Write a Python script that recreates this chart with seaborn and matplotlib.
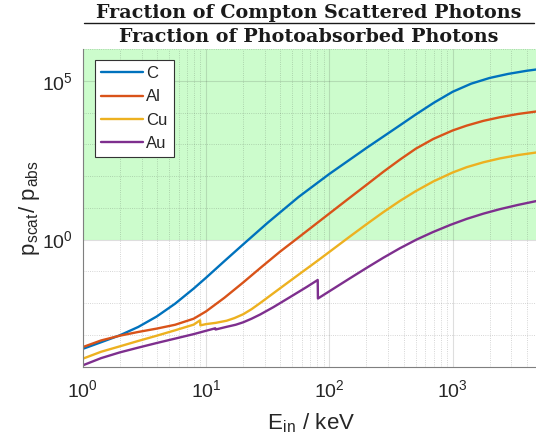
import numpy as np
import pandas as pd
import matplotlib
matplotlib.use("Agg")
import matplotlib.pyplot as plt
import matplotlib.ticker as mticker
from matplotlib.lines import Line2D
import seaborn as sns

# --- data (E in keV, ratio p_scat / p_abs) ---
energy_c = [1, 1.41, 2, 2.82, 3.98, 5.62, 7.94, 10, 14.1, 20, 31.6, 56.2, 100,
            200, 374, 501, 708, 1000, 1413, 1995, 2818, 3981, 5000]
ratio_c = [3.63e-4, 5.89e-4, 9.73e-4, 1.78e-3, 3.8e-3, 9.66e-3, 0.0288, 0.0631,
           0.211, 0.708, 3.39, 21.9, 117, 769, 3980, 8650, 2.07e4, 4.52e4,
           8.13e4, 1.23e5, 1.65e5, 2.07e5, 2.33e5]

energy_al = [1, 1.41, 2, 2.82, 3.98, 5.62, 7.94, 10, 14.1, 20, 28.2, 39.8, 56.2,
             84.1, 138, 201, 275, 374, 501, 697, 1000, 1300, 1778, 2420, 3388, 5000]
ratio_al = [4.13e-4, 6.7e-4, 9.46e-4, 1.24e-3, 1.58e-3, 2.09e-3, 3.24e-3, 5.5e-3,
            0.0148, 0.0447, 0.138, 0.417, 1.17, 3.94, 17.5, 53.7, 138, 331, 724,
            1480, 2735, 3890, 5500, 7140, 9040, 1.11e4]

energy_cu = [1, 1.41, 2, 2.82, 3.98, 5.62, 7.94, 8.95, 9.0, 10, 12, 14.7, 17, 20,
             23.4, 27.4, 35.1, 48, 57.8, 81.5, 108, 147, 201, 275, 374, 501, 697,
             1000, 1300, 1778, 2420, 3388, 5000]
ratio_cu = [1.78e-4, 2.95e-4, 4.37e-4, 6.46e-4, 9.44e-4, 1.40e-3, 2.11e-3, 2.88e-3,
            2.0e-3, 2.19e-3, 2.4e-3, 2.8e-3, 3.39e-3, 4.47e-3, 6.46e-3, 0.01,
            0.0204, 0.0501, 0.0851, 0.226, 0.513, 1.26, 3.09, 7.41, 16.6, 33.5,
            67.9, 130, 191, 273, 361, 459, 569]

energy_au = [1, 1.41, 2, 2.82, 3.98, 5.62, 7.94, 10, 11.9, 11.95, 14.7, 17.4, 20.1,
             23.4, 27.4, 35.2, 48, 65.6, 80.5, 80.8, 122, 147, 200, 274, 372, 511,
             692, 953, 1300, 1775, 2420, 3388, 5000]
ratio_au = [1.1e-4, 1.86e-4, 2.82e-4, 3.98e-4, 5.56e-4, 7.67e-4, 1.06e-3, 1.35e-3,
            1.62e-3, 1.48e-3, 1.8e-3, 2.09e-3, 2.51e-3, 3.24e-3, 4.37e-3, 7.5e-3,
            0.0155, 0.0324, 0.0537, 0.014, 0.0385, 0.0608, 0.128, 0.269, 0.531,
            1.01, 1.73, 2.89, 4.5, 6.58, 9.12, 12.4, 17.0]

materials = ["C", "Al", "Cu", "Au"]
colors = ["#0072BD", "#D95319", "#EDB120", "#7E2F8E"]

df = pd.concat([
    pd.DataFrame({"E": energy_c, "ratio": ratio_c, "material": "C"}),
    pd.DataFrame({"E": energy_al, "ratio": ratio_al, "material": "Al"}),
    pd.DataFrame({"E": energy_cu, "ratio": ratio_cu, "material": "Cu"}),
    pd.DataFrame({"E": energy_au, "ratio": ratio_au, "material": "Au"}),
], ignore_index=True)

sns.set_theme(style="white")
plt.rcParams.update({
    "font.family": ["Liberation Sans", "DejaVu Sans"],
    "mathtext.fontset": "cm",
    "axes.edgecolor": "#7f7f7f",
    "xtick.color": "#262626",
    "ytick.color": "#262626",
})

W, H = 536, 448
fig = plt.figure(figsize=(W / 100, H / 100), dpi=100)
ax = fig.add_axes([0.1543, 0.1815, 0.851, 0.709])

# region where scattering dominates
ax.axhspan(1, 1e6, color="#ccfccc", zorder=0.5, lw=0)

sns.lineplot(data=df, x="E", y="ratio", hue="material", hue_order=materials,
             palette=colors, estimator=None, sort=False, linewidth=1.7, ax=ax)

ax.set_xscale("log")
ax.set_yscale("log")
ax.set_xlim(1, 5000)
ax.set_ylim(1e-4, 1e6)

ax.yaxis.set_major_locator(mticker.FixedLocator([1, 1e5]))
ax.yaxis.set_minor_locator(mticker.LogLocator(base=10, subs=(1.0,), numticks=20))
ax.yaxis.set_minor_formatter(mticker.NullFormatter())
ax.xaxis.set_major_locator(mticker.FixedLocator([1, 10, 100, 1000]))
ax.xaxis.set_minor_locator(mticker.LogLocator(base=10, subs=np.arange(2, 10), numticks=20))
ax.xaxis.set_minor_formatter(mticker.NullFormatter())

ax.grid(True, which="major", color="#262626", alpha=0.15, lw=0.8, ls="-")
ax.grid(True, which="minor", color="#262626", alpha=0.25, lw=0.6, ls=":")

ax.tick_params(which="both", direction="in", labelsize=14)
ax.tick_params(which="major", length=4, width=0.6)
ax.tick_params(which="minor", length=2, width=0.5)
ax.tick_params(axis="x", which="major", pad=9)
ax.tick_params(axis="y", which="major", pad=7)

for side in ["top", "right"]:
    ax.spines[side].set_visible(False)
for side in ["left", "bottom"]:
    ax.spines[side].set_linewidth(0.8)

ax.set_xlabel(r"E$_\mathregular{in}$ / keV", fontsize=16, labelpad=7)
ax.set_ylabel(r"p$_\mathregular{scat}$/ p$_\mathregular{abs}$", fontsize=16, labelpad=0)

handles, labels = ax.get_legend_handles_labels()
leg = ax.legend(handles, labels, loc="upper left", bbox_to_anchor=(0.028, 0.965),
                fontsize=12, frameon=True, fancybox=False, framealpha=1,
                edgecolor="#333333", handlelength=2.5, handletextpad=0.2,
                labelspacing=0.5, borderpad=0.35, borderaxespad=0)
leg.get_frame().set_linewidth(0.8)

# title drawn as a fraction: numerator, bar, denominator
title_x = 309 / W
title_font = dict(family="DejaVu Serif", weight="bold", size=13.8, color="#1a1a1a")
fig.text(title_x, 1 - 17.5 / H, "Fraction of Compton Scattered Photons",
         ha="center", va="baseline", **title_font)
fig.text(title_x, 1 - 42.5 / H, "Fraction of Photoabsorbed Photons",
         ha="center", va="baseline", **title_font)
fig.add_artist(Line2D([84 / W, 534 / W], [1 - 23.3 / H, 1 - 23.3 / H],
                      color="#1a1a1a", lw=1.0, transform=fig.transFigure))

fig.savefig("out.png", dpi=100)
